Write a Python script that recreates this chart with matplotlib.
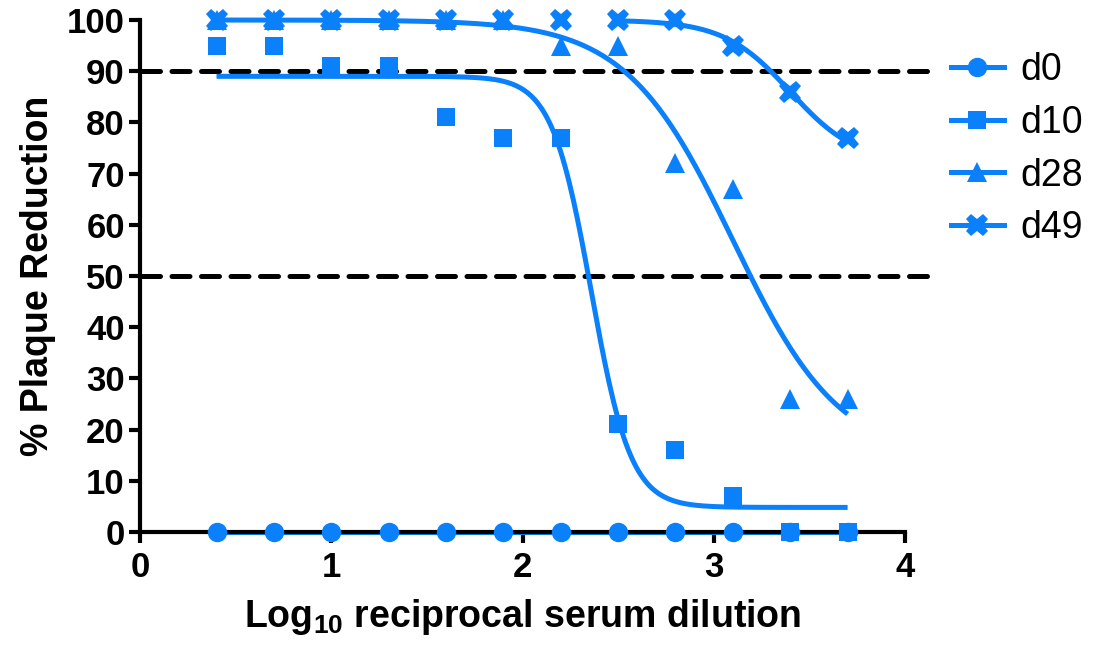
import numpy as np
import matplotlib
matplotlib.use('Agg')
import matplotlib.pyplot as plt
from matplotlib.lines import Line2D

plt.rcParams['font.family'] = ['Liberation Sans', 'DejaVu Sans']
plt.rcParams['mathtext.fontset'] = 'custom'
plt.rcParams['mathtext.rm'] = 'Liberation Sans:bold'
plt.rcParams['mathtext.bf'] = 'Liberation Sans:bold'

# Data
dilution = [0.4, 0.7, 1.0, 1.3, 1.6, 1.9, 2.2, 2.5, 2.8, 3.1, 3.4, 3.7]
d0 = [0, 0, 0, 0, 0, 0, 0, 0, 0, 0, 0, 0]
d10 = [95, 95, 91, 91, 81, 77, 77, 21, 16, 7, 0, 0]
d28 = [100, 100, 100, 100, 100, 100, 95, 95, 72, 67, 26, 26]
d49 = [100, 100, 100, 100, 100, 100, 100, 100, 100, 95, 86, 77]

# fitted 4PL curves: bottom, top, logEC50, hill slope, x range
fit_d0 = [0, 0, 2.0, 1.0, 0.4, 3.7]
fit_d10 = [4.8, 89, 2.36, 4.2, 0.4, 3.7]
fit_d28 = [14, 100, 3.10, 1.55, 0.4, 3.7]
fit_d49 = [72, 100, 3.40, 2.5, 2.5, 3.7]

series = [('d0', d0, fit_d0, 'o', 14),
          ('d10', d10, fit_d10, 's', 13.5),
          ('d28', d28, fit_d28, '^', 14),
          ('d49', d49, fit_d49, 'X', 16.5)]

blue = '#0A80FA'


def four_pl(x, bottom, top, ec50, hill):
    return bottom + (top - bottom) / (1 + 10 ** ((x - ec50) * hill))


fig = plt.figure(figsize=(11, 6.45), dpi=100)
ax = fig.add_axes([0.1273, 0.1752, 0.6954, 0.7938])

# reference lines at 90% and 50%
for yline in [90, 50]:
    ax.plot([0.01, 4.12], [yline, yline], color='black', lw=3.6,
            dashes=(3.6, 2.3), dash_capstyle='round', clip_on=False, zorder=1)

for name, vals, fit, mk, ms in series:
    xs = np.linspace(fit[4], fit[5], 300)
    ax.plot(xs, four_pl(xs, *fit[:4]), color=blue, lw=3.6, zorder=2,
            clip_on=False, solid_capstyle='butt')
    ax.plot(dilution, vals, linestyle='none', marker=mk, ms=ms, color=blue,
            markeredgewidth=0, clip_on=False, zorder=3)

ax.set_xlim(0, 4)
ax.set_ylim(0, 100)
ax.set_xticks([0, 1, 2, 3, 4])
ax.set_yticks(np.arange(0, 101, 10))
ax.spines['top'].set_visible(False)
ax.spines['right'].set_visible(False)
for s in ['left', 'bottom']:
    ax.spines[s].set_linewidth(3)
ax.tick_params(width=3, length=8, labelsize=25)
ax.tick_params(axis='x', pad=6)
ax.tick_params(axis='y', pad=3)
for lab in ax.get_xticklabels() + ax.get_yticklabels():
    lab.set_fontweight('bold')

ax.set_xlabel(r'Log$_{\mathbf{10}}$ reciprocal serum dilution', fontsize=27,
              fontweight='bold', labelpad=9)
ax.set_ylabel('% Plaque Reduction', fontsize=27, fontweight='bold',
              labelpad=8)

handles = [Line2D([], [], color=blue, lw=3.6, marker=mk, ms=ms,
                  markeredgewidth=0) for _, _, _, mk, ms in series]
fig.legend(handles, [s[0] for s in series], loc='upper left',
           bbox_to_anchor=(0.834, 0.972), frameon=False, fontsize=27,
           handlelength=1.4, labelspacing=0.45, handletextpad=0.45)

fig.savefig('out.png', dpi=100)
